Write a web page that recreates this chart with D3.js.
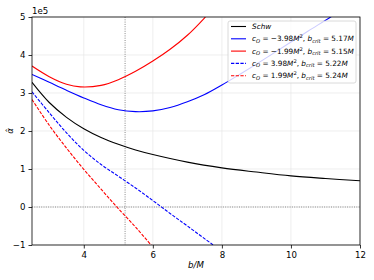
<!DOCTYPE html>
<html>
<head>
<meta charset="utf-8">
<script src="https://cdn.jsdelivr.net/npm/d3@7"></script>
<style>
body { margin: 0; background: #fff; }
svg { font-family: "DejaVu Sans", sans-serif; }
</style>
</head>
<body>
<div id="chart"></div>
<script>
// b/M sample points, alpha in units of 1e5
const schwB = [2.5, 3.0, 3.5, 4.0, 4.5, 5.0, 5.5, 6.0, 7.0, 8.0, 9.0, 10.0, 11.0, 12.0];
const schwA = [3.28, 2.75, 2.36, 2.06, 1.83, 1.65, 1.5, 1.38, 1.18, 1.03, 0.92, 0.82, 0.75, 0.69];

const negBigB = [2.5, 3.0, 3.5, 4.0, 4.5, 5.0, 5.5, 6.0, 6.5, 7.0, 7.5, 8.0, 8.5, 9.0, 9.5, 10.0, 10.5, 11.15, 11.6];
const negBigA = [3.49, 3.28, 3.07, 2.87, 2.69, 2.56, 2.51, 2.53, 2.62, 2.77, 2.96, 3.21, 3.48, 3.76, 4.05, 4.34, 4.63, 5.0, 5.27];

const negSmallB = [2.5, 3.0, 3.5, 3.9, 4.5, 5.0, 5.5, 6.0, 6.5, 7.0, 7.5, 7.9];
const negSmallA = [3.71, 3.43, 3.23, 3.16, 3.2, 3.35, 3.57, 3.84, 4.15, 4.52, 4.98, 5.4];

const posBigB = [2.5, 3.0, 3.5, 4.0, 4.5, 5.0, 5.5, 6.0, 6.5, 7.0, 7.75, 8.0];
const posBigA = [3.03, 2.48, 1.95, 1.49, 1.12, 0.81, 0.5, 0.17, -0.17, -0.5, -1.0, -1.16];

const posSmallB = [2.5, 3.0, 3.5, 4.0, 4.5, 5.0, 5.5, 5.95, 6.1];
const posSmallA = [2.83, 2.15, 1.55, 0.99, 0.47, -0.04, -0.53, -1.0, -1.15];

const bCrit = 5.196;
const xTicks = [4, 6, 8, 10, 12];
const yTicks = [-1, 0, 1, 2, 3, 4, 5];

const series = [
  {b: schwB, a: schwA, color: "#000000", dash: null, label: "schw"},
  {b: negBigB, a: negBigA, color: "#0000ff", dash: null, label: ["\u22123.98", "5.17"]},
  {b: negSmallB, a: negSmallA, color: "#ff0000", dash: null, label: ["\u22121.99", "5.15"]},
  {b: posBigB, a: posBigA, color: "#0000ff", dash: "3.3,1.4", label: ["3.98", "5.22"]},
  {b: posSmallB, a: posSmallA, color: "#ff0000", dash: "3.3,1.4", label: ["1.99", "5.24"]}
];

const W = 374, H = 280;
const margin = {top: 17, right: 14, bottom: 35, left: 32};
const width = W - margin.left - margin.right;
const height = H - margin.top - margin.bottom;

const svg = d3.select("#chart").append("svg")
  .attr("width", W).attr("height", H);

const x = d3.scaleLinear().domain([2.5, 12]).range([margin.left, margin.left + width]);
const y = d3.scaleLinear().domain([-1, 5]).range([margin.top + height, margin.top]);

// grid
svg.append("g").selectAll("line").data(xTicks).join("line")
  .attr("x1", d => x(d)).attr("x2", d => x(d))
  .attr("y1", margin.top).attr("y2", margin.top + height)
  .attr("stroke", "#e6e6e6").attr("stroke-width", 0.7);
svg.append("g").selectAll("line").data(yTicks).join("line")
  .attr("x1", margin.left).attr("x2", margin.left + width)
  .attr("y1", d => y(d)).attr("y2", d => y(d))
  .attr("stroke", "#e6e6e6").attr("stroke-width", 0.7);

svg.append("clipPath").attr("id", "clip").append("rect")
  .attr("x", margin.left).attr("y", margin.top).attr("width", width).attr("height", height);

// reference lines
svg.append("line")
  .attr("x1", margin.left).attr("x2", margin.left + width)
  .attr("y1", y(0)).attr("y2", y(0))
  .attr("stroke", "#888").attr("stroke-width", 1).attr("stroke-dasharray", "1,1.3");
svg.append("line")
  .attr("x1", x(bCrit)).attr("x2", x(bCrit))
  .attr("y1", margin.top).attr("y2", margin.top + height)
  .attr("stroke", "#888").attr("stroke-width", 1).attr("stroke-dasharray", "1,1.3");

const line = d3.line().curve(d3.curveCatmullRom.alpha(0.5))
  .x(d => x(d[0])).y(d => y(d[1]));

const curves = svg.append("g").attr("clip-path", "url(#clip)");
series.forEach(s => {
  curves.append("path")
    .datum(s.b.map((v, i) => [v, s.a[i]]))
    .attr("d", line)
    .attr("fill", "none")
    .attr("stroke", s.color)
    .attr("stroke-width", 1.1)
    .attr("stroke-dasharray", s.dash);
});

// axes
const xAxis = svg.append("g")
  .attr("transform", `translate(0,${margin.top + height})`)
  .call(d3.axisBottom(x).tickValues(xTicks).tickSize(3.5).tickPadding(3).tickFormat(d3.format("d")));
const yAxis = svg.append("g")
  .attr("transform", `translate(${margin.left},0)`)
  .call(d3.axisLeft(y).tickValues(yTicks).tickSize(3.5).tickPadding(3)
    .tickFormat(d => d < 0 ? "\u2212" + Math.abs(d) : d));
[xAxis, yAxis].forEach(a => {
  a.select(".domain").remove();
  a.selectAll("text").attr("font-size", 8.6).attr("fill", "#000").attr("font-family", "DejaVu Sans");
  a.selectAll("line").attr("stroke", "#000").attr("stroke-width", 0.8);
});

svg.append("rect")
  .attr("x", margin.left).attr("y", margin.top)
  .attr("width", width).attr("height", height)
  .attr("fill", "none").attr("stroke", "#000").attr("stroke-width", 0.8);

svg.append("text").attr("x", margin.left).attr("y", margin.top - 3)
  .attr("font-size", 8.6).text("1e5");

svg.append("text").attr("x", x(7.25)).attr("y", 268)
  .attr("text-anchor", "middle").attr("font-size", 8.6).attr("font-style", "italic")
  .text("b/M");

svg.append("text")
  .attr("transform", `translate(13,${y(2)}) rotate(-90)`)
  .attr("text-anchor", "middle").attr("font-size", 8.6).attr("font-style", "italic")
  .text("\u03b1\u0302");

// legend
const lg = svg.append("g").attr("transform", "translate(228,21)");
lg.append("rect").attr("width", 128).attr("height", 62).attr("rx", 2)
  .attr("fill", "#fff").attr("fill-opacity", 0.8)
  .attr("stroke", "#d0d0d0").attr("stroke-width", 0.8);
series.forEach((s, i) => {
  const yy = 5.5 + i * 12.3;
  lg.append("line").attr("x1", 3).attr("x2", 18).attr("y1", yy).attr("y2", yy)
    .attr("stroke", s.color).attr("stroke-width", 1.1).attr("stroke-dasharray", s.dash);
  const t = lg.append("text").attr("x", 24).attr("y", yy + 2.5).attr("font-size", 7.3);
  if (s.label === "schw") {
    t.append("tspan").attr("font-style", "italic").text("Schw");
    return;
  }
  t.append("tspan").attr("font-style", "italic").text("c");
  t.append("tspan").attr("font-style", "italic").attr("font-size", 5.2).attr("dy", 1.5).text("O");
  t.append("tspan").attr("dy", -1.5).text(" = " + s.label[0]);
  t.append("tspan").attr("font-style", "italic").text("M");
  t.append("tspan").attr("font-size", 5.2).attr("dy", -3).text("2");
  t.append("tspan").attr("dy", 3).text(", ");
  t.append("tspan").attr("font-style", "italic").text("b");
  t.append("tspan").attr("font-style", "italic").attr("font-size", 5.2).attr("dy", 1.5).text("crit");
  t.append("tspan").attr("dy", -1.5).text(" = " + s.label[1]);
  t.append("tspan").attr("font-style", "italic").text("M");
});
</script>
</body>
</html>
